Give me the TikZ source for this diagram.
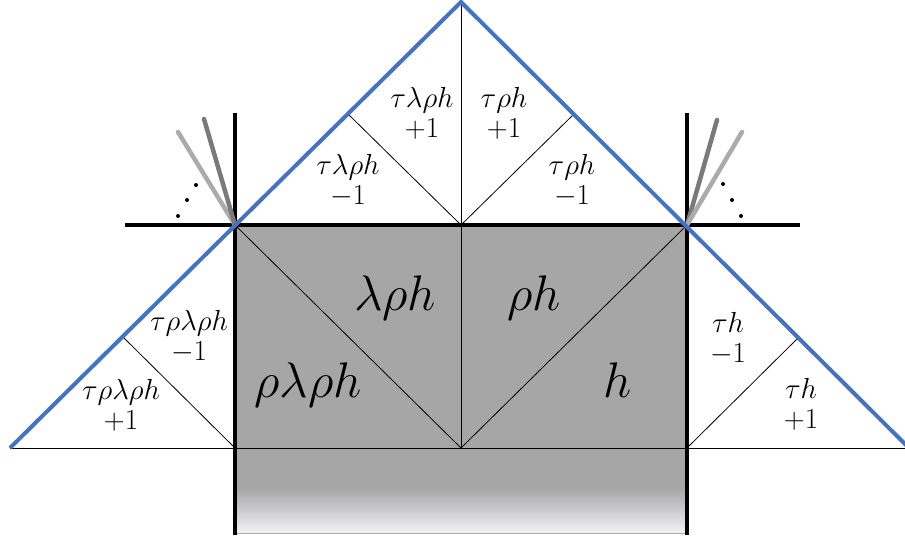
\RequirePackage{fix-cm}
\documentclass[tikz,border=0pt]{standalone}
\definecolor{fillgray}{HTML}{A6A6A6}
\definecolor{blueline}{HTML}{4472C4}
\definecolor{darkray}{HTML}{7A7A7A}
\definecolor{lightray}{HTML}{ABABAB}
\definecolor{fadeend}{HTML}{F2F2F8}
\begin{document}
\begin{tikzpicture}[x=1pt,y=-1pt,
  thinline/.style={black,line width=0.8pt},
  thickline/.style={black,line width=4pt},
  blueedge/.style={blueline,line width=4pt,line join=miter},
  ray/.style={line width=4.5pt,line cap=round},
  dotmark/.style={black,fill=black,circle,inner sep=0pt,minimum size=4pt},
  small/.style={anchor=base,inner sep=0pt,align=center,font=\fontsize{29}{30}\selectfont},
  big/.style={anchor=base,inner sep=0pt,font=\fontsize{50}{55}\selectfont}]
\useasboundingbox (0,0) rectangle (905,541);
% key points
\coordinate (apex) at (461,2);
\coordinate (TL) at (235,225);
\coordinate (TR) at (687,225);
\coordinate (TM) at (461,225);
\coordinate (BL) at (235,448);
\coordinate (BR) at (687,448);
\coordinate (BM) at (461,448);
\coordinate (LL) at (10,448);
\coordinate (RR) at (910,449);
\coordinate (RE) at (905,448);
\coordinate (ML) at (348,114);
\coordinate (MR) at (574,114);
\coordinate (LM) at (123,337);
\coordinate (RM) at (799,337);
\coordinate (FT) at (235,488);
\coordinate (FB) at (687,533);
\coordinate (GL) at (235,533);
% gray region
\fill[fillgray] (TL) rectangle (687,488);
\shade[top color=fillgray,bottom color=fadeend] (FT) rectangle (FB);
\draw[lightray,line width=0.8pt] (GL) -- (FB);
% thin lines
\draw[thinline] (LL) -- (RE);
\draw[thinline] (TL) -- (BM) -- (TR);
\draw[thinline] (apex) -- (BM);
\draw[thinline] (ML) -- (TM) -- (MR);
\draw[thinline] (LM) -- (BL);
\draw[thinline] (RM) -- (BR);
% thick lines
\coordinate (VLt) at (235,113);
\coordinate (VLb) at (235,535);
\coordinate (VRt) at (687,113);
\coordinate (VRb) at (687,535);
\coordinate (Hl) at (125,225);
\coordinate (Hr) at (800,225);
\draw[thickline] (VLt) -- (VLb);
\draw[thickline] (VRt) -- (VRb);
\draw[thickline] (Hl) -- (Hr);
% rays
\coordinate (RL1) at (204,119);
\coordinate (RL2) at (178,132);
\coordinate (RR1) at (717,120);
\coordinate (RR2) at (742,132);
\draw[ray,lightray] (TL) -- (RL2);
\draw[ray,darkray] (TL) -- (RL1);
\draw[ray,darkray] (TR) -- (RR1);
\draw[ray,lightray] (TR) -- (RR2);
\node[dotmark] (d1) at (196,185) {};
\node[dotmark] (d2) at (187,200) {};
\node[dotmark] (d3) at (178,216) {};
\node[dotmark] (d4) at (723,184) {};
\node[dotmark] (d5) at (732,200) {};
\node[dotmark] (d6) at (741,216) {};
% blue edges
\draw[blueedge] (LL) -- (apex) -- (RR);
% big labels
\node[big] (b1) at (395,310) {$\lambda\rho h$};
\node[big] (b2) at (534,310) {$\rho h$};
\node[big] (b3) at (308,397) {$\rho\lambda\rho h$};
\node[big] (b4) at (618,397) {$h$};
% small labels (anchor = baseline of the second line)
\node[small] (s1) at (422,137) {$\tau\lambda\rho h$\\$+1$};
\node[small] (s2) at (504,137) {$\tau\rho h$\\$+1$};
\node[small] (s3) at (348,204) {$\tau\lambda\rho h$\\$-1$};
\node[small] (s4) at (572,204) {$\tau\rho h$\\$-1$};
\node[small] (s5) at (189,360) {$\tau\rho\lambda\rho h$\\$-1$};
\node[small] (s6) at (121,429) {$\tau\rho\lambda\rho h$\\$+1$};
\node[small] (s7) at (728,362) {$\tau h$\\$-1$};
\node[small] (s8) at (801,428) {$\tau h$\\$+1$};
\end{tikzpicture}
\end{document}
